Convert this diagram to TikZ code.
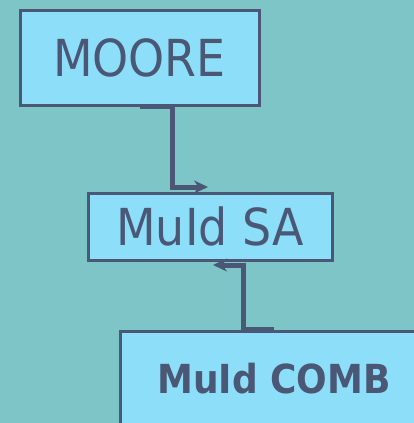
\documentclass[tikz,border=0pt]{standalone}
\usepackage{fontspec}
\setmainfont[FakeStretch=0.9]{DejaVu Sans}
\usetikzlibrary{arrows.meta}
\definecolor{sea}{HTML}{7EC5C8}
\definecolor{sky}{HTML}{8DDFF9}
\definecolor{slate}{HTML}{4A5775}
\begin{document}
\begin{tikzpicture}[x=1pt,y=-1pt,
  box/.style={draw=slate,line width=3pt,fill=sky,text=slate,inner sep=0pt},
  link/.style={draw=slate,line width=5pt,-{Stealth[length=14pt,width=13pt]}}]
  \clip (0,0) rectangle (414,423);
  \fill[sea] (0,0) rectangle (414,423);
  % boxes
  \node[box,minimum width=239pt,minimum height=95pt,font=\fontsize{51}{51}\selectfont] (moore) at (139.5,57.5) {MOORE};
  \node[box,minimum width=244pt,minimum height=67pt,font=\fontsize{51}{51}\selectfont] (sa) at (210,226.5) {MuId SA};
  \node[box,minimum width=308pt,minimum height=96pt,font=\fontsize{40}{40}\selectfont\bfseries] (comb) at (274,379) {MuId COMB};
  % elbow links
  \coordinate (in1) at (208,187);
  \coordinate (in2) at (213,265);
  \draw[link] (moore.south) -- ++(33,0) |- (in1);
  \draw[link] (comb.north) -- ++(-31,0) |- (in2);
\end{tikzpicture}
\end{document}
